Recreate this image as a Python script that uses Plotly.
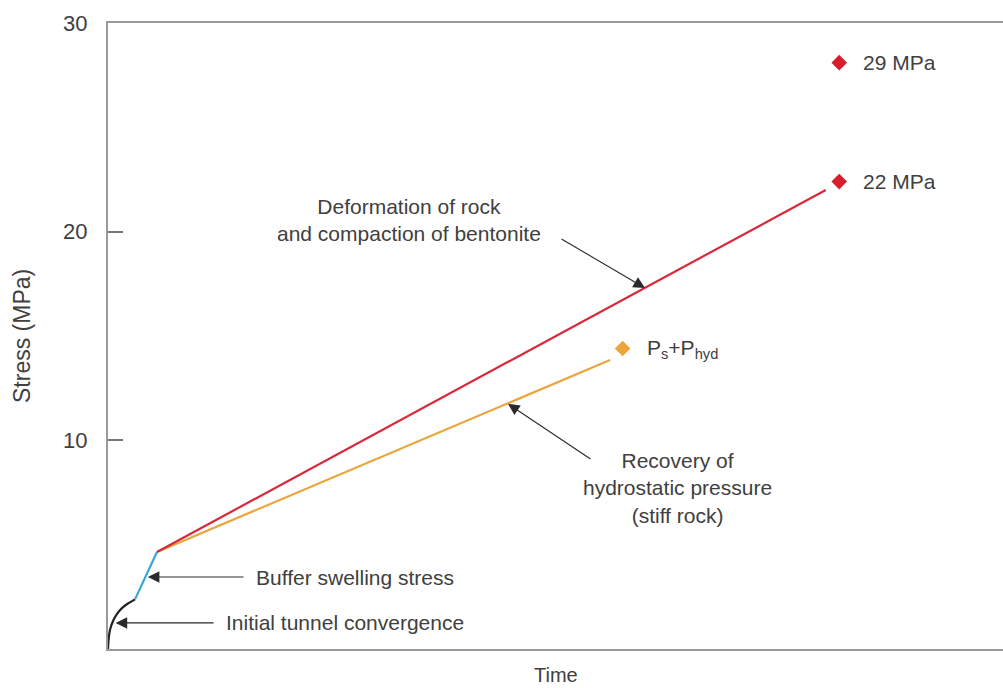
import plotly.graph_objects as go

# ---- data ----
conv_t = [0.0, 0.06, 0.22, 0.56, 1.01, 1.56, 2.23, 3.02]
conv_s = [0.0, 0.43, 0.91, 1.34, 1.68, 1.96, 2.18, 2.38]
swell_t = [3.02, 5.47]
swell_s = [2.38, 4.65]
deform_t = [5.47, 80.2]
deform_s = [4.65, 22.0]
hydro_t = [5.47, 56.1]
hydro_s = [4.65, 13.85]
red_pts_t = [81.7, 81.7]
red_pts_s = [28.1, 22.4]
red_pts_labels = ["29 MPa", "22 MPa"]
orange_pt_t = [57.5]
orange_pt_s = [14.4]
orange_pt_label = ["P<sub>s</sub>+P<sub>hyd</sub>"]
y_ticks = [10, 20, 30]

FONT = "Liberation Sans, Arial, sans-serif"
TXT = "#404040"
fs = 21

fig = go.Figure()
fig.add_trace(go.Scatter(x=conv_t, y=conv_s, mode="lines",
                         line=dict(color="#222222", width=2.2, shape="spline", smoothing=0.6),
                         hoverinfo="skip"))
fig.add_trace(go.Scatter(x=swell_t, y=swell_s, mode="lines",
                         line=dict(color="#3aa6d6", width=2.2), hoverinfo="skip"))
fig.add_trace(go.Scatter(x=hydro_t, y=hydro_s, mode="lines",
                         line=dict(color="#eca43c", width=2.2), hoverinfo="skip"))
fig.add_trace(go.Scatter(x=deform_t, y=deform_s, mode="lines",
                         line=dict(color="#d8283a", width=2.2), hoverinfo="skip"))
fig.add_trace(go.Scatter(x=red_pts_t, y=red_pts_s, mode="markers",
                         marker=dict(symbol="diamond", size=12, color="#d81e2c"), hoverinfo="skip"))
fig.add_trace(go.Scatter(x=orange_pt_t, y=orange_pt_s, mode="markers",
                         marker=dict(symbol="diamond", size=12, color="#eca43c"), hoverinfo="skip"))

ann = []

# point labels placed to the right of each marker
for t, s, lab in zip(red_pts_t + orange_pt_t, red_pts_s + orange_pt_s,
                     red_pts_labels + orange_pt_label):
    ann.append(dict(x=t, y=s, xref="x", yref="y", text=lab, showarrow=False,
                    xanchor="left", yanchor="middle", xshift=22,
                    font=dict(family=FONT, size=fs, color=TXT)))

def arrow(tail, head):
    ann.append(dict(x=head[0], y=head[1], ax=tail[0], ay=tail[1], xref="x", yref="y",
                    axref="x", ayref="y", text="", showarrow=True, arrowhead=2,
                    arrowsize=2.1, arrowwidth=1.1, arrowcolor="#2a2a2a"))

arrow((50.5, 19.69), (60.0, 17.30))
arrow((54.08, 9.06), (44.69, 11.75))
arrow((15.31, 3.45), (4.45, 3.45))
arrow((11.96, 1.25), (0.85, 1.25))

def label(x, y, text, xanchor="center"):
    ann.append(dict(x=x, y=y, xref="x", yref="y", text=text, showarrow=False,
                    xanchor=xanchor, yanchor="middle", align="center",
                    font=dict(family=FONT, size=fs, color=TXT)))

label(33.6, 20.58, "Deformation of rock<br>and compaction of bentonite")
label(63.6, 7.71, "Recovery of<br>hydrostatic pressure<br>(stiff rock)")
label(16.3, 3.45, "Buffer swelling stress", "left")
label(13.0, 1.25, "Initial tunnel convergence", "left")

ann.append(dict(x=0, y=0.5, xref="paper", yref="paper", xshift=-86, text="Stress (MPa)",
                textangle=-90, showarrow=False, xanchor="center", yanchor="middle",
                font=dict(family=FONT, size=23, color=TXT)))
ann.append(dict(x=0.5, y=0, xref="paper", yref="paper", yshift=-26, text="Time",
                showarrow=False, xanchor="center", yanchor="middle",
                font=dict(family=FONT, size=20, color=TXT)))

fig.update_layout(
    width=1003, height=688,
    margin=dict(l=108, r=0, t=23, b=39),
    paper_bgcolor="white", plot_bgcolor="white",
    showlegend=False, annotations=ann,
    xaxis=dict(range=[0, 100], showgrid=False, zeroline=False, showticklabels=False,
               ticks="", showline=True, linecolor="#9a9a9a", linewidth=2, mirror=True,
               fixedrange=True),
    yaxis=dict(range=[0, 30], showgrid=False, zeroline=False, tickvals=y_ticks,
               ticks="inside", ticklen=15, tickcolor="#777777", tickwidth=1.5,
               tickfont=dict(family=FONT, size=22, color=TXT), ticklabelstandoff=14,
               showline=True, linecolor="#9a9a9a", linewidth=2, fixedrange=True),
)

fig.write_html("out.html")
